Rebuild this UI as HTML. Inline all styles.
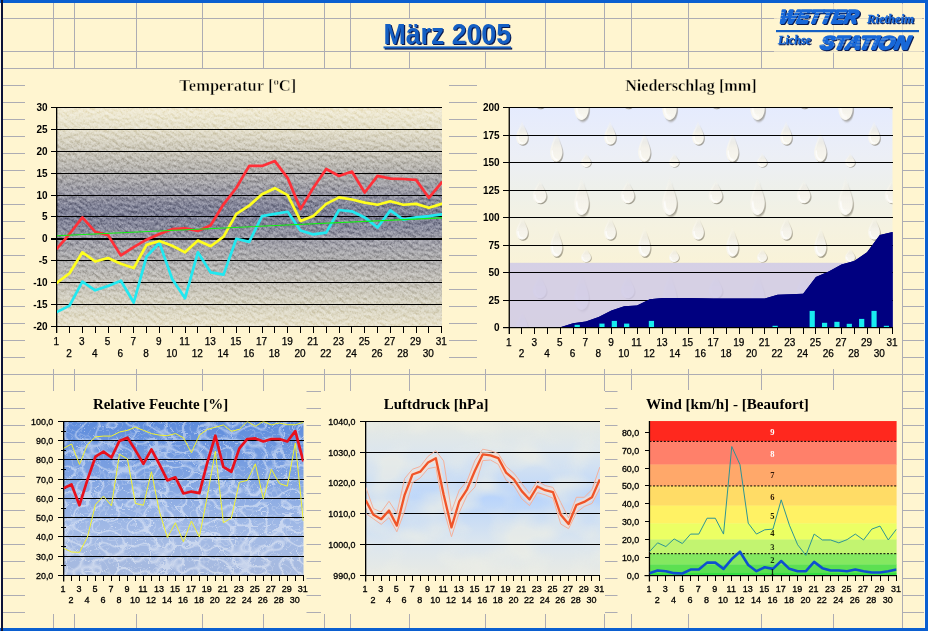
<!DOCTYPE html>
<html lang="de"><head><meta charset="utf-8"><title>März 2005 – Wetterstation Rietheim</title>
<style>html,body{margin:0;padding:0;background:#FFF5D0;overflow:hidden}svg{display:block}
.ab{font-family:"Liberation Sans",Arial,sans-serif;font-weight:bold;font-size:10px;fill:#000}
.ar{font-family:"Liberation Sans",Arial,sans-serif;font-size:10px;fill:#000;stroke:#000;stroke-width:0.25px}
.as{font-family:"Liberation Sans",Arial,sans-serif;font-size:8.9px;fill:#000;stroke:#000;stroke-width:0.3px}
.ax{font-family:"Liberation Sans",Arial,sans-serif;font-size:9px;fill:#000;stroke:#000;stroke-width:0.3px}
.tt{font-family:"Liberation Serif","Times New Roman",serif;font-weight:bold;fill:#000}
</style></head><body>
<svg width="928" height="631" viewBox="0 0 928 631">
<defs>
<linearGradient id="gT" x1="0" y1="0" x2="0" y2="1"><stop offset="0.000" stop-color="#F1EBD4"/><stop offset="0.098" stop-color="#E5E0CC"/><stop offset="0.199" stop-color="#CCC8BB"/><stop offset="0.299" stop-color="#B2B0AE"/><stop offset="0.400" stop-color="#9797A4"/><stop offset="0.450" stop-color="#838599"/><stop offset="0.495" stop-color="#7F8197"/><stop offset="0.550" stop-color="#8A8C9E"/><stop offset="0.596" stop-color="#9E9EA9"/><stop offset="0.696" stop-color="#B0AFAF"/><stop offset="0.797" stop-color="#C5C2BA"/><stop offset="0.897" stop-color="#D8D4C3"/><stop offset="1.000" stop-color="#E9E3CD"/></linearGradient>
<filter id="fStone" x="0" y="0" width="100%" height="100%" color-interpolation-filters="sRGB"><feTurbulence type="fractalNoise" baseFrequency="0.20 0.34" numOctaves="3" seed="7" result="n"/><feDiffuseLighting in="n" surfaceScale="1.5" diffuseConstant="1" lighting-color="#fff" result="l"><feDistantLight azimuth="235" elevation="30"/></feDiffuseLighting><feTurbulence type="fractalNoise" baseFrequency="0.75" numOctaves="1" seed="3" result="n2"/><feColorMatrix in="n2" type="matrix" values="2.6 0 0 0 -0.8  2.6 0 0 0 -0.8  2.6 0 0 0 -0.8  0 0 0 0 1" result="g2"/><feComposite in="l" in2="g2" operator="arithmetic" k1="0" k2="0.85" k3="0.55" k4="-0.2" result="m"/><feColorMatrix in="m" type="matrix" values="1 0 0 0 0  0 1 0 0 0  0 0 1 0 0  0 0 0 0 1"/></filter>
<linearGradient id="gN" x1="0" y1="0" x2="0" y2="1"><stop offset="0" stop-color="#E5EBFE"/><stop offset="0.22" stop-color="#ECEFF6"/><stop offset="0.38" stop-color="#EEF0EA"/><stop offset="0.55" stop-color="#F5F2E0"/><stop offset="0.75" stop-color="#FAF3D6"/><stop offset="1" stop-color="#FDF3CE"/></linearGradient>
<linearGradient id="gDrop" x1="0" y1="0" x2="0" y2="1"><stop offset="0" stop-color="#F3F0E4" stop-opacity="0"/><stop offset="0.25" stop-color="#F7F5EC" stop-opacity="0.45"/><stop offset="0.55" stop-color="#F8F6EE" stop-opacity="0.9"/><stop offset="1" stop-color="#FAF8F0" stop-opacity="1"/></linearGradient>
<linearGradient id="gDropS" x1="0" y1="0" x2="0" y2="1"><stop offset="0.15" stop-color="#8A8474" stop-opacity="0"/><stop offset="0.6" stop-color="#8A8474" stop-opacity="0.42"/><stop offset="1" stop-color="#6E6858" stop-opacity="0.64"/></linearGradient>
<filter id="fBlur1" x="-30%" y="-30%" width="160%" height="160%"><feGaussianBlur stdDeviation="0.8"/></filter>
<symbol id="drop" viewBox="0 0 20 40" preserveAspectRatio="none" overflow="visible"><path d="M10 0 C11 9 19 20 19 28 C19 35 15 40 10 40 C5 40 1 35 1 28 C1 20 9 9 10 0Z" fill="url(#gDropS)" transform="translate(1.8,1.4)" filter="url(#fBlur1)"/><path d="M10 0 C11 9 19 20 19 28 C19 35 15 40 10 40 C5 40 1 35 1 28 C1 20 9 9 10 0Z" fill="url(#gDrop)"/><path d="M4 27 C3.5 33 7 37.5 11 37.5" fill="none" stroke="#fff" stroke-width="2.4" stroke-linecap="round" opacity="0.7" filter="url(#fBlur1)"/></symbol>
<pattern id="pDrops" x="509" y="107" width="88" height="95" patternUnits="userSpaceOnUse">
<use href="#drop" x="64.5" y="68" width="16" height="40"/>
<use href="#drop" x="6.5" y="12.8" width="13" height="25"/>
<use href="#drop" x="40.5" y="22.7" width="13.5" height="32"/>
<use href="#drop" x="71.5" y="45" width="11" height="15"/>
<use href="#drop" x="23" y="71.3" width="15" height="25"/>
<use href="#drop" x="64.5" y="163" width="16" height="40"/>
<use href="#drop" x="6.5" y="107.8" width="13" height="25"/>
<use href="#drop" x="40.5" y="117.7" width="13.5" height="32"/>
<use href="#drop" x="71.5" y="140" width="11" height="15"/>
<use href="#drop" x="23" y="166.3" width="15" height="25"/>
<use href="#drop" x="64.5" y="-27" width="16" height="40"/>
<use href="#drop" x="6.5" y="-82.2" width="13" height="25"/>
<use href="#drop" x="40.5" y="-72.3" width="13.5" height="32"/>
<use href="#drop" x="71.5" y="-50" width="11" height="15"/>
<use href="#drop" x="23" y="-23.7" width="15" height="25"/>
<use href="#drop" x="152.5" y="68" width="16" height="40"/>
<use href="#drop" x="94.5" y="12.8" width="13" height="25"/>
<use href="#drop" x="128.5" y="22.7" width="13.5" height="32"/>
<use href="#drop" x="159.5" y="45" width="11" height="15"/>
<use href="#drop" x="111" y="71.3" width="15" height="25"/>
<use href="#drop" x="152.5" y="163" width="16" height="40"/>
<use href="#drop" x="94.5" y="107.8" width="13" height="25"/>
<use href="#drop" x="128.5" y="117.7" width="13.5" height="32"/>
<use href="#drop" x="159.5" y="140" width="11" height="15"/>
<use href="#drop" x="111" y="166.3" width="15" height="25"/>
<use href="#drop" x="152.5" y="-27" width="16" height="40"/>
<use href="#drop" x="94.5" y="-82.2" width="13" height="25"/>
<use href="#drop" x="128.5" y="-72.3" width="13.5" height="32"/>
<use href="#drop" x="159.5" y="-50" width="11" height="15"/>
<use href="#drop" x="111" y="-23.7" width="15" height="25"/>
<use href="#drop" x="-23.5" y="68" width="16" height="40"/>
<use href="#drop" x="-81.5" y="12.8" width="13" height="25"/>
<use href="#drop" x="-47.5" y="22.7" width="13.5" height="32"/>
<use href="#drop" x="-16.5" y="45" width="11" height="15"/>
<use href="#drop" x="-65" y="71.3" width="15" height="25"/>
<use href="#drop" x="-23.5" y="163" width="16" height="40"/>
<use href="#drop" x="-81.5" y="107.8" width="13" height="25"/>
<use href="#drop" x="-47.5" y="117.7" width="13.5" height="32"/>
<use href="#drop" x="-16.5" y="140" width="11" height="15"/>
<use href="#drop" x="-65" y="166.3" width="15" height="25"/>
<use href="#drop" x="-23.5" y="-27" width="16" height="40"/>
<use href="#drop" x="-81.5" y="-82.2" width="13" height="25"/>
<use href="#drop" x="-47.5" y="-72.3" width="13.5" height="32"/>
<use href="#drop" x="-16.5" y="-50" width="11" height="15"/>
<use href="#drop" x="-65" y="-23.7" width="15" height="25"/>
</pattern>
<linearGradient id="gH" x1="0" y1="0" x2="0" y2="1"><stop offset="0" stop-color="#5E8CDC"/><stop offset="0.35" stop-color="#7FA3E2"/><stop offset="0.7" stop-color="#A2BAE6"/><stop offset="1" stop-color="#A7BADF"/></linearGradient>
<filter id="fWater" x="0" y="0" width="100%" height="100%" color-interpolation-filters="sRGB"><feTurbulence type="turbulence" baseFrequency="0.06 0.075" numOctaves="1" seed="4" result="n"/><feColorMatrix in="n" type="matrix" values="0 0 0 0 1  0 0 0 0 1  0 0 0 0 1  -7 0 0 0 0.8" result="a1"/><feTurbulence type="turbulence" baseFrequency="0.11 0.13" numOctaves="1" seed="9" result="n2"/><feColorMatrix in="n2" type="matrix" values="0 0 0 0 1  0 0 0 0 1  0 0 0 0 1  -5 0 0 0 0.36" result="a2"/><feMerge><feMergeNode in="a1"/><feMergeNode in="a2"/></feMerge><feGaussianBlur stdDeviation="0.7"/></filter>
<linearGradient id="gP" x1="0" y1="0" x2="0" y2="1"><stop offset="0" stop-color="#E6E9E2"/><stop offset="0.2" stop-color="#DCE6EE"/><stop offset="0.5" stop-color="#BAD5FB"/><stop offset="0.8" stop-color="#DCE6EE"/><stop offset="1" stop-color="#E8EAE4"/></linearGradient>
<filter id="fCloud" x="0" y="0" width="100%" height="100%" color-interpolation-filters="sRGB"><feTurbulence type="fractalNoise" baseFrequency="0.022 0.035" numOctaves="2" seed="5" result="n"/><feColorMatrix in="n" type="matrix" values="0 0 0 0 0.93  0 0 0 0 0.935  0 0 0 0 0.90  3.0 0 0 0 -1.2"/></filter>
<clipPath id="cT"><rect x="57" y="107.5" width="385" height="219"/></clipPath>
<clipPath id="cN"><rect x="509.5" y="107" width="383" height="220.3"/></clipPath>
<clipPath id="cH"><rect x="63.5" y="421.5" width="240" height="154"/></clipPath>
<clipPath id="cP"><rect x="366" y="421.5" width="234" height="153.5"/></clipPath>
<clipPath id="cW"><rect x="649.5" y="421" width="247" height="154.3"/></clipPath>
</defs>
<rect x="0" y="0" width="928" height="631" fill="#FFF5D0"/>
<path d="M53.5 3V628M74.5 3V628M136.5 3V628M202.5 3V628M263.5 3V628M324.5 3V628M350.5 3V628M409.5 3V628M485.5 3V628M545.5 3V628M604.5 3V628M631.5 3V628M688.5 3V628M761.5 3V628M833.5 3V628M902.5 3V628M3 18.5H925M3 51.5H925M3 68.5H925M3 85.5H925M3 102.5H925M3 119.5H925M3 136.5H925M3 153.5H925M3 170.5H925M3 187.5H925M3 204.5H925M3 221.5H925M3 238.5H925M3 255.5H925M3 272.5H925M3 289.5H925M3 306.5H925M3 323.5H925M3 340.5H925M3 357.5H925M3 374.5H925M3 391.5H925M3 408.5H925M3 425.5H925M3 442.5H925M3 459.5H925M3 476.5H925M3 493.5H925M3 510.5H925M3 527.5H925M3 544.5H925M3 561.5H925M3 578.5H925M3 595.5H925M3 612.5H925" stroke="#ADACB3" stroke-width="1" fill="none" shape-rendering="crispEdges"/>
<rect x="25" y="69" width="424" height="300" fill="#FFF5D0"/>
<rect x="477" y="69" width="425" height="300" fill="#FFF5D0"/>
<rect x="25" y="391" width="281.5" height="223" fill="#FFF5D0"/>
<rect x="321" y="391" width="284" height="223" fill="#FFF5D0"/>
<rect x="617.5" y="390" width="284.5" height="224" fill="#FFF5D0"/>
<rect x="0" y="0" width="928" height="3" fill="#0B5FD0"/>
<rect x="0" y="628" width="928" height="3" fill="#0B5FD0"/>
<rect x="925" y="0" width="3" height="631" fill="#0B5FD0"/>
<rect x="924" y="3" width="1" height="625" fill="#FFF9E6"/>
<rect x="0" y="3" width="1" height="625" fill="#FFF9E6"/>
<rect x="1" y="0" width="2" height="631" fill="#0C1238"/>
<rect x="351" y="19" width="194" height="32" fill="#FFF5D0"/>
<g font-family="'Liberation Sans',Arial,sans-serif" font-weight="bold" font-size="28.8px">
<text x="384.7" y="45.4" fill="#0A1A50" textLength="127.5" lengthAdjust="spacingAndGlyphs">März 2005</text>
<text x="383.5" y="44.2" fill="#1560C4" textLength="127.5" lengthAdjust="spacingAndGlyphs">März 2005</text>
</g>
<rect x="384.7" y="47.6" width="127.5" height="2" fill="#0A1A50"/>
<rect x="383.5" y="46.4" width="127.5" height="2" fill="#1560C4"/>
<rect x="774" y="4" width="148" height="49" fill="#FFF5D0" opacity="0.62"/>
<g font-family="'Liberation Sans',Arial,sans-serif" font-weight="bold" font-style="italic">
<text transform="translate(779.6,23.9) skewX(-12)" font-size="18.5px" fill="#0A1A50" stroke="#0A1A50" stroke-width="1.9" stroke-linejoin="round" textLength="78.5" lengthAdjust="spacingAndGlyphs">WETTER</text>
<text transform="translate(778.5,22.8) skewX(-12)" font-size="18.5px" fill="#1868D8" stroke="#1868D8" stroke-width="1.9" stroke-linejoin="round" textLength="78.5" lengthAdjust="spacingAndGlyphs">WETTER</text>
<text transform="translate(820.6,50.4) skewX(-12)" font-size="18.5px" fill="#0A1A50" stroke="#0A1A50" stroke-width="1.9" stroke-linejoin="round" textLength="89.5" lengthAdjust="spacingAndGlyphs">STATION</text>
<text transform="translate(819.5,49.3) skewX(-12)" font-size="18.5px" fill="#1868D8" stroke="#1868D8" stroke-width="1.9" stroke-linejoin="round" textLength="89.5" lengthAdjust="spacingAndGlyphs">STATION</text>
</g>
<g font-family="'Liberation Serif',serif" font-weight="bold" font-style="italic">
<text transform="translate(868.1,24.1) skewX(0)" font-size="11.5px" fill="#0A1A50" stroke="#0A1A50" stroke-width="0.3" stroke-linejoin="round" textLength="47" lengthAdjust="spacingAndGlyphs">Rietheim</text>
<text transform="translate(867,23) skewX(0)" font-size="11.5px" fill="#1868D8" stroke="#1868D8" stroke-width="0.3" stroke-linejoin="round" textLength="47" lengthAdjust="spacingAndGlyphs">Rietheim</text>
<text transform="translate(779.1,45.1) skewX(0)" font-size="11.5px" fill="#0A1A50" stroke="#0A1A50" stroke-width="0.3" stroke-linejoin="round" textLength="33" lengthAdjust="spacingAndGlyphs">Lichse</text>
<text transform="translate(778,44) skewX(0)" font-size="11.5px" fill="#1868D8" stroke="#1868D8" stroke-width="0.3" stroke-linejoin="round" textLength="33" lengthAdjust="spacingAndGlyphs">Lichse</text>
</g>
<rect x="776" y="30" width="143" height="2.2" fill="#1560C4"/>
<path d="M779 12.5h70M778 15.5h62M777 18.5h56M821 39h74M820 42h66M819 45h58" stroke="#FFF5D0" stroke-width="0.7" stroke-dasharray="5 3 2 4 7 2" opacity="0.55" fill="none"/>
<text class="tt" x="179.3" y="90.9" font-size="16px" textLength="117" lengthAdjust="spacingAndGlyphs" stroke="#FFF5D0" stroke-width="0.45">Temperatur [ºC]</text>
<rect x="57" y="107.5" width="385" height="219" fill="url(#gT)"/>
<g clip-path="url(#cT)" style="mix-blend-mode:soft-light" opacity="0.85"><rect x="-60" y="-120" width="640" height="680" transform="rotate(38 250 217)" filter="url(#fStone)"/></g>
<path d="M51 326.5H442M51 304.5H442M51 282.5H442M51 260.5H442M51 216.5H442M51 195.5H442M51 173.5H442M51 151.5H442M51 129.5H442M51 107.5H442" stroke="#000" stroke-width="1" fill="none" shape-rendering="crispEdges"/>
<rect x="51" y="238" width="391" height="2" fill="#000" shape-rendering="crispEdges"/>
<rect x="56" y="107" width="1.3" height="226" fill="#000"/>
<path d="M56.7 326.5v6.5M69.53 326.5v6.5M82.37 326.5v6.5M95.2 326.5v6.5M108.03 326.5v6.5M120.87 326.5v6.5M133.7 326.5v6.5M146.53 326.5v6.5M159.37 326.5v6.5M172.2 326.5v6.5M185.03 326.5v6.5M197.87 326.5v6.5M210.7 326.5v6.5M223.53 326.5v6.5M236.37 326.5v6.5M249.2 326.5v6.5M262.03 326.5v6.5M274.87 326.5v6.5M287.7 326.5v6.5M300.53 326.5v6.5M313.37 326.5v6.5M326.2 326.5v6.5M339.03 326.5v6.5M351.87 326.5v6.5M364.7 326.5v6.5M377.53 326.5v6.5M390.37 326.5v6.5M403.2 326.5v6.5M416.03 326.5v6.5M428.87 326.5v6.5M441.7 326.5v6.5" stroke="#000" stroke-width="1" fill="none" shape-rendering="crispEdges"/>
<text class="ab" x="47.6" y="330" text-anchor="end">-20</text>
<text class="ab" x="47.6" y="308" text-anchor="end">-15</text>
<text class="ab" x="47.6" y="286" text-anchor="end">-10</text>
<text class="ab" x="47.6" y="264" text-anchor="end">-5</text>
<text class="ab" x="47.6" y="242" text-anchor="end">0</text>
<text class="ab" x="47.6" y="220" text-anchor="end">5</text>
<text class="ab" x="47.6" y="199" text-anchor="end">10</text>
<text class="ab" x="47.6" y="177" text-anchor="end">15</text>
<text class="ab" x="47.6" y="155" text-anchor="end">20</text>
<text class="ab" x="47.6" y="133" text-anchor="end">25</text>
<text class="ab" x="47.6" y="111" text-anchor="end">30</text>
<text class="ar" x="56.2" y="344.6" text-anchor="middle">1</text>
<text class="ar" x="69.03" y="356.8" text-anchor="middle">2</text>
<text class="ar" x="81.87" y="344.6" text-anchor="middle">3</text>
<text class="ar" x="94.7" y="356.8" text-anchor="middle">4</text>
<text class="ar" x="107.53" y="344.6" text-anchor="middle">5</text>
<text class="ar" x="120.37" y="356.8" text-anchor="middle">6</text>
<text class="ar" x="133.2" y="344.6" text-anchor="middle">7</text>
<text class="ar" x="146.03" y="356.8" text-anchor="middle">8</text>
<text class="ar" x="158.87" y="344.6" text-anchor="middle">9</text>
<text class="ar" x="171.7" y="356.8" text-anchor="middle">10</text>
<text class="ar" x="184.53" y="344.6" text-anchor="middle">11</text>
<text class="ar" x="197.37" y="356.8" text-anchor="middle">12</text>
<text class="ar" x="210.2" y="344.6" text-anchor="middle">13</text>
<text class="ar" x="223.03" y="356.8" text-anchor="middle">14</text>
<text class="ar" x="235.87" y="344.6" text-anchor="middle">15</text>
<text class="ar" x="248.7" y="356.8" text-anchor="middle">16</text>
<text class="ar" x="261.53" y="344.6" text-anchor="middle">17</text>
<text class="ar" x="274.37" y="356.8" text-anchor="middle">18</text>
<text class="ar" x="287.2" y="344.6" text-anchor="middle">19</text>
<text class="ar" x="300.03" y="356.8" text-anchor="middle">20</text>
<text class="ar" x="312.87" y="344.6" text-anchor="middle">21</text>
<text class="ar" x="325.7" y="356.8" text-anchor="middle">22</text>
<text class="ar" x="338.53" y="344.6" text-anchor="middle">23</text>
<text class="ar" x="351.37" y="356.8" text-anchor="middle">24</text>
<text class="ar" x="364.2" y="344.6" text-anchor="middle">25</text>
<text class="ar" x="377.03" y="356.8" text-anchor="middle">26</text>
<text class="ar" x="389.87" y="344.6" text-anchor="middle">27</text>
<text class="ar" x="402.7" y="356.8" text-anchor="middle">28</text>
<text class="ar" x="415.53" y="344.6" text-anchor="middle">29</text>
<text class="ar" x="428.37" y="356.8" text-anchor="middle">30</text>
<text class="ar" x="441.2" y="344.6" text-anchor="middle">31</text>
<g clip-path="url(#cT)" fill="none" stroke-linejoin="round" stroke-linecap="round">
<polyline points="56.7,312.13 69.53,305.58 82.37,281.58 95.2,290.31 108.03,285.94 120.87,280.7 133.7,302.53 146.53,256.7 159.37,242.73 172.2,278.96 185.03,298.16 197.87,252.33 210.7,272.41 223.53,274.59 236.37,238.8 249.2,241.86 262.03,216.1 274.87,213.92 287.7,211.74 300.53,230.51 313.37,234.44 326.2,232.69 339.03,209.99 351.87,211.3 364.7,217.41 377.53,227.45 390.37,210.43 403.2,219.59 416.03,217.41 428.87,216.1 441.7,214.36" stroke="#22E8F0" stroke-width="2.7"/>
<polyline points="56.7,282.89 69.53,273.28 82.37,252.33 95.2,261.5 108.03,258.01 120.87,263.68 133.7,268.05 146.53,244.91 159.37,240.98 172.2,245.78 185.03,252.33 197.87,240.55 210.7,246.22 223.53,236.62 236.37,213.92 249.2,205.63 262.03,194.28 274.87,188.17 287.7,195.15 300.53,220.9 313.37,216.1 326.2,203.88 339.03,197.33 351.87,199.52 364.7,202.57 377.53,204.75 390.37,201.26 403.2,204.75 416.03,203.88 428.87,207.81 441.7,203.88" stroke="#FFFF1E" stroke-width="2.7"/>
<polyline points="56.7,248.84 69.53,234 82.37,217.41 95.2,231.82 108.03,235.31 120.87,255.39 133.7,247.09 146.53,239.67 159.37,234 172.2,229.2 185.03,228.32 197.87,230.94 210.7,225.27 223.53,204.32 236.37,187.73 249.2,165.9 262.03,165.9 274.87,161.1 287.7,178.13 300.53,209.12 313.37,187.73 326.2,168.96 339.03,175.94 351.87,171.58 364.7,192.53 377.53,175.94 390.37,178.56 403.2,179 416.03,179.87 428.87,197.77 441.7,182.49" stroke="#FF3038" stroke-width="2.7"/>
<path d="M56.7 235.74L441.7 217.85" stroke="#10F010" stroke-width="1.1"/>
</g>
<text class="tt" x="625.2" y="90.9" font-size="16px" textLength="131.4" lengthAdjust="spacingAndGlyphs" stroke="#FFF5D0" stroke-width="0.35">Niederschlag [mm]</text>
<rect x="509.5" y="107" width="383" height="220.3" fill="url(#gN)"/>
<rect x="509.5" y="107" width="383" height="220.3" fill="url(#pDrops)"/>
<rect x="509.5" y="262.8" width="383" height="64.7" fill="#CFCAE6" opacity="0.86"/>
<polygon points="509.2,327.3 509.2,327.3 521.98,327.3 534.76,327.3 547.54,327.3 560.32,327.3 573.1,323.3 585.88,321.6 598.66,317.1 611.44,310.4 624.22,306.3 637,305.5 649.78,299.3 662.56,298.1 675.34,298.1 688.12,298.1 700.9,298.3 713.68,298.6 726.46,298.6 739.24,298.6 752.02,298.6 764.8,298.6 777.58,294.8 790.36,294.3 803.14,293.8 815.92,277 828.7,271.5 841.48,264.6 854.26,260.9 867.04,252.3 879.82,234.9 892.6,231.9 892.6,327.3" fill="#000080"/>
<path d="M503 300.5H892.6M503 272.5H892.6M503 245.5H892.6M503 217.5H892.6M503 190.5H892.6M503 162.5H892.6M503 135.5H892.6M503 107.5H892.6" stroke="#000" stroke-width="1" fill="none" shape-rendering="crispEdges"/>
<polygon points="509.2,327.3 509.2,327.3 521.98,327.3 534.76,327.3 547.54,327.3 560.32,327.3 573.1,323.3 585.88,321.6 598.66,317.1 611.44,310.4 624.22,306.3 637,305.5 649.78,299.3 662.56,298.1 675.34,298.1 688.12,298.1 700.9,298.3 713.68,298.6 726.46,298.6 739.24,298.6 752.02,298.6 764.8,298.6 777.58,294.8 790.36,294.3 803.14,293.8 815.92,277 828.7,271.5 841.48,264.6 854.26,260.9 867.04,252.3 879.82,234.9 892.6,231.9 892.6,327.3" fill="#000080"/>
<rect x="574.62" y="324.8" width="5.2" height="2.5" fill="#18ECF0"/>
<rect x="599.36" y="323.6" width="5.2" height="3.7" fill="#18ECF0"/>
<rect x="611.73" y="320.9" width="5.2" height="6.4" fill="#18ECF0"/>
<rect x="624.09" y="323.6" width="5.2" height="3.7" fill="#18ECF0"/>
<rect x="648.83" y="320.9" width="5.2" height="6.4" fill="#18ECF0"/>
<rect x="772.51" y="325.8" width="5.2" height="1.5" fill="#18ECF0"/>
<rect x="809.61" y="310.9" width="5.2" height="16.4" fill="#18ECF0"/>
<rect x="821.98" y="322.8" width="5.2" height="4.5" fill="#18ECF0"/>
<rect x="834.35" y="321.8" width="5.2" height="5.5" fill="#18ECF0"/>
<rect x="846.71" y="323.8" width="5.2" height="3.5" fill="#18ECF0"/>
<rect x="859.08" y="318.9" width="5.2" height="8.4" fill="#18ECF0"/>
<rect x="871.45" y="310.9" width="5.2" height="16.4" fill="#18ECF0"/>
<rect x="883.82" y="325.8" width="5.2" height="1.5" fill="#18ECF0"/>
<rect x="503" y="327" width="390" height="1.2" fill="#000"/>
<rect x="508.6" y="107" width="1.3" height="227" fill="#000"/>
<path d="M509.2 327.3v6.3M521.98 327.3v6.3M534.76 327.3v6.3M547.54 327.3v6.3M560.32 327.3v6.3M573.1 327.3v6.3M585.88 327.3v6.3M598.66 327.3v6.3M611.44 327.3v6.3M624.22 327.3v6.3M637 327.3v6.3M649.78 327.3v6.3M662.56 327.3v6.3M675.34 327.3v6.3M688.12 327.3v6.3M700.9 327.3v6.3M713.68 327.3v6.3M726.46 327.3v6.3M739.24 327.3v6.3M752.02 327.3v6.3M764.8 327.3v6.3M777.58 327.3v6.3M790.36 327.3v6.3M803.14 327.3v6.3M815.92 327.3v6.3M828.7 327.3v6.3M841.48 327.3v6.3M854.26 327.3v6.3M867.04 327.3v6.3M879.82 327.3v6.3M892.6 327.3v6.3" stroke="#000" stroke-width="1" fill="none" shape-rendering="crispEdges"/>
<text class="ab" x="499.6" y="331.1" text-anchor="end">0</text>
<text class="ab" x="499.6" y="304.1" text-anchor="end">25</text>
<text class="ab" x="499.6" y="276.1" text-anchor="end">50</text>
<text class="ab" x="499.6" y="249.1" text-anchor="end">75</text>
<text class="ab" x="499.6" y="221.1" text-anchor="end">100</text>
<text class="ab" x="499.6" y="194.1" text-anchor="end">125</text>
<text class="ab" x="499.6" y="166.1" text-anchor="end">150</text>
<text class="ab" x="499.6" y="139.1" text-anchor="end">175</text>
<text class="ab" x="499.6" y="111.1" text-anchor="end">200</text>
<text class="ar" x="508.7" y="345.6" text-anchor="middle">1</text>
<text class="ar" x="521.48" y="356.8" text-anchor="middle">2</text>
<text class="ar" x="534.26" y="345.6" text-anchor="middle">3</text>
<text class="ar" x="547.04" y="356.8" text-anchor="middle">4</text>
<text class="ar" x="559.82" y="345.6" text-anchor="middle">5</text>
<text class="ar" x="572.6" y="356.8" text-anchor="middle">6</text>
<text class="ar" x="585.38" y="345.6" text-anchor="middle">7</text>
<text class="ar" x="598.16" y="356.8" text-anchor="middle">8</text>
<text class="ar" x="610.94" y="345.6" text-anchor="middle">9</text>
<text class="ar" x="623.72" y="356.8" text-anchor="middle">10</text>
<text class="ar" x="636.5" y="345.6" text-anchor="middle">11</text>
<text class="ar" x="649.28" y="356.8" text-anchor="middle">12</text>
<text class="ar" x="662.06" y="345.6" text-anchor="middle">13</text>
<text class="ar" x="674.84" y="356.8" text-anchor="middle">14</text>
<text class="ar" x="687.62" y="345.6" text-anchor="middle">15</text>
<text class="ar" x="700.4" y="356.8" text-anchor="middle">16</text>
<text class="ar" x="713.18" y="345.6" text-anchor="middle">17</text>
<text class="ar" x="725.96" y="356.8" text-anchor="middle">18</text>
<text class="ar" x="738.74" y="345.6" text-anchor="middle">19</text>
<text class="ar" x="751.52" y="356.8" text-anchor="middle">20</text>
<text class="ar" x="764.3" y="345.6" text-anchor="middle">21</text>
<text class="ar" x="777.08" y="356.8" text-anchor="middle">22</text>
<text class="ar" x="789.86" y="345.6" text-anchor="middle">23</text>
<text class="ar" x="802.64" y="356.8" text-anchor="middle">24</text>
<text class="ar" x="815.42" y="345.6" text-anchor="middle">25</text>
<text class="ar" x="828.2" y="356.8" text-anchor="middle">26</text>
<text class="ar" x="840.98" y="345.6" text-anchor="middle">27</text>
<text class="ar" x="853.76" y="356.8" text-anchor="middle">28</text>
<text class="ar" x="866.54" y="345.6" text-anchor="middle">29</text>
<text class="ar" x="879.32" y="356.8" text-anchor="middle">30</text>
<text class="ar" x="892.1" y="345.6" text-anchor="middle">31</text>
<text class="tt" x="92.9" y="408.7" font-size="15px" textLength="135.4" lengthAdjust="spacingAndGlyphs">Relative Feuchte [%]</text>
<rect x="63.5" y="421.4" width="240" height="154" fill="url(#gH)"/>
<rect x="63.5" y="421.4" width="240" height="154" filter="url(#fWater)" opacity="0.52"/>
<path d="M58 575.5H303.5M58 556.5H303.5M58 536.5H303.5M58 517.5H303.5M58 498.5H303.5M58 479.5H303.5M58 459.5H303.5M58 440.5H303.5M58 421.5H303.5M61 565.5H66M61 546.5H66M61 527.5H66M61 508.5H66M61 488.5H66M61 469.5H66M61 450.5H66M61 431.5H66" stroke="#000" stroke-width="1" fill="none" shape-rendering="crispEdges"/>
<rect x="63" y="421" width="1.3" height="160.5" fill="#000"/>
<path d="M63.5 575.4v5.8M71.49 575.4v5.8M79.49 575.4v5.8M87.48 575.4v5.8M95.47 575.4v5.8M103.47 575.4v5.8M111.46 575.4v5.8M119.45 575.4v5.8M127.45 575.4v5.8M135.44 575.4v5.8M143.43 575.4v5.8M151.43 575.4v5.8M159.42 575.4v5.8M167.41 575.4v5.8M175.41 575.4v5.8M183.4 575.4v5.8M191.39 575.4v5.8M199.39 575.4v5.8M207.38 575.4v5.8M215.37 575.4v5.8M223.37 575.4v5.8M231.36 575.4v5.8M239.35 575.4v5.8M247.35 575.4v5.8M255.34 575.4v5.8M263.33 575.4v5.8M271.33 575.4v5.8M279.32 575.4v5.8M287.31 575.4v5.8M295.31 575.4v5.8M303.3 575.4v5.8" stroke="#000" stroke-width="1" fill="none" shape-rendering="crispEdges"/>
<text class="as" x="53.3" y="578.9" text-anchor="end">20,0</text>
<text class="as" x="53.3" y="559.9" text-anchor="end">30,0</text>
<text class="as" x="53.3" y="539.9" text-anchor="end">40,0</text>
<text class="as" x="53.3" y="520.9" text-anchor="end">50,0</text>
<text class="as" x="53.3" y="501.9" text-anchor="end">60,0</text>
<text class="as" x="53.3" y="482.9" text-anchor="end">70,0</text>
<text class="as" x="53.3" y="462.9" text-anchor="end">80,0</text>
<text class="as" x="53.3" y="443.9" text-anchor="end">90,0</text>
<text class="as" x="53.3" y="424.9" text-anchor="end">100,0</text>
<text class="ax" x="63" y="591.8" text-anchor="middle">1</text>
<text class="ax" x="70.99" y="602.7" text-anchor="middle">2</text>
<text class="ax" x="78.99" y="591.8" text-anchor="middle">3</text>
<text class="ax" x="86.98" y="602.7" text-anchor="middle">4</text>
<text class="ax" x="94.97" y="591.8" text-anchor="middle">5</text>
<text class="ax" x="102.97" y="602.7" text-anchor="middle">6</text>
<text class="ax" x="110.96" y="591.8" text-anchor="middle">7</text>
<text class="ax" x="118.95" y="602.7" text-anchor="middle">8</text>
<text class="ax" x="126.95" y="591.8" text-anchor="middle">9</text>
<text class="ax" x="134.94" y="602.7" text-anchor="middle">10</text>
<text class="ax" x="142.93" y="591.8" text-anchor="middle">11</text>
<text class="ax" x="150.93" y="602.7" text-anchor="middle">12</text>
<text class="ax" x="158.92" y="591.8" text-anchor="middle">13</text>
<text class="ax" x="166.91" y="602.7" text-anchor="middle">14</text>
<text class="ax" x="174.91" y="591.8" text-anchor="middle">15</text>
<text class="ax" x="182.9" y="602.7" text-anchor="middle">16</text>
<text class="ax" x="190.89" y="591.8" text-anchor="middle">17</text>
<text class="ax" x="198.89" y="602.7" text-anchor="middle">18</text>
<text class="ax" x="206.88" y="591.8" text-anchor="middle">19</text>
<text class="ax" x="214.87" y="602.7" text-anchor="middle">20</text>
<text class="ax" x="222.87" y="591.8" text-anchor="middle">21</text>
<text class="ax" x="230.86" y="602.7" text-anchor="middle">22</text>
<text class="ax" x="238.85" y="591.8" text-anchor="middle">23</text>
<text class="ax" x="246.85" y="602.7" text-anchor="middle">24</text>
<text class="ax" x="254.84" y="591.8" text-anchor="middle">25</text>
<text class="ax" x="262.83" y="602.7" text-anchor="middle">26</text>
<text class="ax" x="270.83" y="591.8" text-anchor="middle">27</text>
<text class="ax" x="278.82" y="602.7" text-anchor="middle">28</text>
<text class="ax" x="286.81" y="591.8" text-anchor="middle">29</text>
<text class="ax" x="294.81" y="602.7" text-anchor="middle">30</text>
<text class="ax" x="302.8" y="591.8" text-anchor="middle">31</text>
<g clip-path="url(#cH)" fill="none" stroke-linejoin="round">
<polyline points="63.5,448.42 71.49,443.99 79.49,464.4 87.48,444.57 95.47,436.86 103.47,436.09 111.46,436.09 119.45,432.05 127.45,430.32 135.44,427.24 143.43,430.32 151.43,433.59 159.42,435.13 167.41,435.71 175.41,433.59 183.4,437.63 191.39,452.65 199.39,435.13 207.38,429.35 215.37,427.24 223.37,424.93 231.36,431.28 239.35,429.35 247.35,421.46 255.34,426.27 263.33,421.46 271.33,424.93 279.32,423 287.31,424.73 295.31,424.73 303.3,422.42" stroke="#F2F230" stroke-width="1"/>
<polyline points="63.5,548.16 71.49,552.01 79.49,552.39 87.48,536.99 95.47,504.45 103.47,496.17 111.46,505.8 119.45,454.19 127.45,459.01 135.44,503.49 143.43,505.22 151.43,471.72 159.42,511.57 167.41,537.57 175.41,522.74 183.4,541.8 191.39,521.01 199.39,536.99 207.38,495.59 215.37,451.11 223.37,522.74 231.36,517.93 239.35,482.31 247.35,480.38 255.34,463.82 263.33,498.87 271.33,469.21 279.32,483.46 287.31,486.16 295.31,443.03 303.3,521.01" stroke="#F2F230" stroke-width="1"/>
<polyline points="63.5,488.27 71.49,484.42 79.49,505.22 87.48,479.61 95.47,456.7 103.47,451.69 111.46,457.47 119.45,440.91 127.45,437.63 135.44,450.34 143.43,463.82 151.43,449.38 159.42,464.4 167.41,480.38 175.41,477.3 183.4,493.47 191.39,491.55 199.39,493.09 207.38,462.28 215.37,435.71 223.37,466.9 231.36,471.72 239.35,448.42 247.35,438.98 255.34,438.4 263.33,441.49 271.33,438.98 279.32,438.98 287.31,441.49 295.31,431.09 303.3,461.32" stroke="#E8101C" stroke-width="2.7"/>
</g>
<text class="tt" x="383.8" y="409.1" font-size="15px" textLength="104.8" lengthAdjust="spacingAndGlyphs">Luftdruck [hPa]</text>
<rect x="366" y="421.5" width="234" height="153.5" fill="url(#gP)"/>
<rect x="366" y="421.5" width="234" height="153.5" filter="url(#fCloud)" opacity="0.7"/>
<path d="M359.5 575.5H600M359.5 544.5H600M359.5 513.5H600M359.5 482.5H600M359.5 452.5H600M359.5 421.5H600" stroke="#000" stroke-width="1" fill="none" shape-rendering="crispEdges"/>
<rect x="365" y="421" width="1.3" height="160.5" fill="#000"/>
<path d="M365.6 575v5.8M373.41 575v5.8M381.21 575v5.8M389.02 575v5.8M396.83 575v5.8M404.63 575v5.8M412.44 575v5.8M420.25 575v5.8M428.05 575v5.8M435.86 575v5.8M443.67 575v5.8M451.47 575v5.8M459.28 575v5.8M467.09 575v5.8M474.89 575v5.8M482.7 575v5.8M490.51 575v5.8M498.31 575v5.8M506.12 575v5.8M513.93 575v5.8M521.73 575v5.8M529.54 575v5.8M537.35 575v5.8M545.15 575v5.8M552.96 575v5.8M560.77 575v5.8M568.57 575v5.8M576.38 575v5.8M584.19 575v5.8M591.99 575v5.8M599.8 575v5.8" stroke="#000" stroke-width="1" fill="none" shape-rendering="crispEdges"/>
<text class="as" x="355.5" y="578.9" text-anchor="end">990,0</text>
<text class="as" x="355.5" y="547.9" text-anchor="end">1000,0</text>
<text class="as" x="355.5" y="516.9" text-anchor="end">1010,0</text>
<text class="as" x="355.5" y="485.9" text-anchor="end">1020,0</text>
<text class="as" x="355.5" y="455.9" text-anchor="end">1030,0</text>
<text class="as" x="355.5" y="424.9" text-anchor="end">1040,0</text>
<text class="ax" x="365.1" y="591.8" text-anchor="middle">1</text>
<text class="ax" x="372.91" y="602.7" text-anchor="middle">2</text>
<text class="ax" x="380.71" y="591.8" text-anchor="middle">3</text>
<text class="ax" x="388.52" y="602.7" text-anchor="middle">4</text>
<text class="ax" x="396.33" y="591.8" text-anchor="middle">5</text>
<text class="ax" x="404.13" y="602.7" text-anchor="middle">6</text>
<text class="ax" x="411.94" y="591.8" text-anchor="middle">7</text>
<text class="ax" x="419.75" y="602.7" text-anchor="middle">8</text>
<text class="ax" x="427.55" y="591.8" text-anchor="middle">9</text>
<text class="ax" x="435.36" y="602.7" text-anchor="middle">10</text>
<text class="ax" x="443.17" y="591.8" text-anchor="middle">11</text>
<text class="ax" x="450.97" y="602.7" text-anchor="middle">12</text>
<text class="ax" x="458.78" y="591.8" text-anchor="middle">13</text>
<text class="ax" x="466.59" y="602.7" text-anchor="middle">14</text>
<text class="ax" x="474.39" y="591.8" text-anchor="middle">15</text>
<text class="ax" x="482.2" y="602.7" text-anchor="middle">16</text>
<text class="ax" x="490.01" y="591.8" text-anchor="middle">17</text>
<text class="ax" x="497.81" y="602.7" text-anchor="middle">18</text>
<text class="ax" x="505.62" y="591.8" text-anchor="middle">19</text>
<text class="ax" x="513.43" y="602.7" text-anchor="middle">20</text>
<text class="ax" x="521.23" y="591.8" text-anchor="middle">21</text>
<text class="ax" x="529.04" y="602.7" text-anchor="middle">22</text>
<text class="ax" x="536.85" y="591.8" text-anchor="middle">23</text>
<text class="ax" x="544.65" y="602.7" text-anchor="middle">24</text>
<text class="ax" x="552.46" y="591.8" text-anchor="middle">25</text>
<text class="ax" x="560.27" y="602.7" text-anchor="middle">26</text>
<text class="ax" x="568.07" y="591.8" text-anchor="middle">27</text>
<text class="ax" x="575.88" y="602.7" text-anchor="middle">28</text>
<text class="ax" x="583.69" y="591.8" text-anchor="middle">29</text>
<text class="ax" x="591.49" y="602.7" text-anchor="middle">30</text>
<text class="ax" x="599.3" y="591.8" text-anchor="middle">31</text>
<g clip-path="url(#cP)" fill="none" stroke-linejoin="round">
<polyline points="365.6,500.04 373.41,514.82 381.21,519.14 389.02,510.51 396.83,525.6 404.63,494.8 412.44,474.48 420.25,471.7 428.05,462.46 435.86,458.15 443.67,494.8 451.47,527.45 459.28,501.27 467.09,489.26 474.89,470.78 482.7,454.46 490.51,455.38 498.31,458.15 506.12,472.63 513.93,479.4 521.73,491.11 529.54,499.42 537.35,486.49 545.15,490.18 552.96,492.03 560.77,514.82 568.57,524.06 576.38,504.97 584.19,501.89 591.99,497.27 599.8,479.4" stroke="#FBE0D0" stroke-width="6" opacity="0.7"/>
<polyline points="365.6,486.8 373.41,508.66 381.21,512.05 389.02,501.27 396.83,513.28 404.63,478.48 412.44,469.24 420.25,466.47 428.05,456.3 435.86,450.76 443.67,460.92 451.47,511.13 459.28,490.18 467.09,480.94 474.89,460.62 482.7,449.22 490.51,450.76 498.31,453.53 506.12,466.47 513.93,473.24 521.73,483.41 529.54,493.26 537.35,480.94 545.15,485.56 552.96,487.41 560.77,502.5 568.57,517.9 576.38,497.27 584.19,497.27 591.99,489.57 599.8,467.08" stroke="#F4B09A" stroke-width="1"/>
<polyline points="365.6,513.28 373.41,518.83 381.21,524.37 389.02,517.6 396.83,531.76 404.63,511.13 412.44,482.79 420.25,477.86 428.05,468.62 435.86,467.08 443.67,509.28 451.47,536.69 459.28,512.36 467.09,495.42 474.89,487.1 482.7,460.62 490.51,460 498.31,464.31 506.12,480.33 513.93,485.56 521.73,498.81 529.54,505.58 537.35,492.65 545.15,494.8 552.96,498.19 560.77,524.06 568.57,528.68 576.38,512.67 584.19,506.51 591.99,503.43 599.8,488.64" stroke="#F4B09A" stroke-width="1"/>
<polyline points="365.6,500.04 373.41,514.82 381.21,519.14 389.02,510.51 396.83,525.6 404.63,494.8 412.44,474.48 420.25,471.7 428.05,462.46 435.86,458.15 443.67,494.8 451.47,527.45 459.28,501.27 467.09,489.26 474.89,470.78 482.7,454.46 490.51,455.38 498.31,458.15 506.12,472.63 513.93,479.4 521.73,491.11 529.54,499.42 537.35,486.49 545.15,490.18 552.96,492.03 560.77,514.82 568.57,524.06 576.38,504.97 584.19,501.89 591.99,497.27 599.8,479.4" stroke="#F05428" stroke-width="2.3"/>
</g>
<text class="tt" x="646" y="409.1" font-size="15px" textLength="162.7" lengthAdjust="spacingAndGlyphs">Wind [km/h] - [Beaufort]</text>
<rect x="649.4" y="421.05" width="247.2" height="20.63" fill="#FF281E"/>
<rect x="649.4" y="441.38" width="247.2" height="23.48" fill="#FF806A"/>
<rect x="649.4" y="464.55" width="247.2" height="21.7" fill="#FFA86A"/>
<rect x="649.4" y="485.95" width="247.2" height="19.91" fill="#FFDC66"/>
<rect x="649.4" y="505.56" width="247.2" height="18.13" fill="#FFF264"/>
<rect x="649.4" y="523.39" width="247.2" height="16.35" fill="#ECFF64"/>
<rect x="649.4" y="539.44" width="247.2" height="14.56" fill="#C2F470"/>
<rect x="649.4" y="553.7" width="247.2" height="11" fill="#84E860"/>
<rect x="649.4" y="564.4" width="247.2" height="8.86" fill="#5CE052"/>
<rect x="649.4" y="572.96" width="247.2" height="2.44" fill="#34E044"/>
<path d="M649.4 441.38H896.6" stroke="#000" stroke-width="1" stroke-dasharray="2 1.6" fill="none"/>
<path d="M649.4 485.95H896.6" stroke="#000" stroke-width="1" stroke-dasharray="2 1.6" fill="none"/>
<path d="M649.4 553.7H896.6" stroke="#000" stroke-width="1" stroke-dasharray="2 1.6" fill="none"/>
<path d="M644.5 575.1H649.4M644.5 557.27H649.4M644.5 539.44H649.4M644.5 521.61H649.4M644.5 503.78H649.4M644.5 485.95H649.4M644.5 468.12H649.4M644.5 450.29H649.4M644.5 432.46H649.4" stroke="#000" stroke-width="1" fill="none" shape-rendering="crispEdges"/>
<rect x="648.8" y="421" width="1.3" height="160.5" fill="#000"/><rect x="644.5" y="575" width="252.2" height="1.2" fill="#000"/>
<path d="M649.4 575.3v5.8M657.64 575.3v5.8M665.87 575.3v5.8M674.11 575.3v5.8M682.35 575.3v5.8M690.58 575.3v5.8M698.82 575.3v5.8M707.06 575.3v5.8M715.29 575.3v5.8M723.53 575.3v5.8M731.77 575.3v5.8M740 575.3v5.8M748.24 575.3v5.8M756.48 575.3v5.8M764.71 575.3v5.8M772.95 575.3v5.8M781.19 575.3v5.8M789.42 575.3v5.8M797.66 575.3v5.8M805.9 575.3v5.8M814.13 575.3v5.8M822.37 575.3v5.8M830.61 575.3v5.8M838.84 575.3v5.8M847.08 575.3v5.8M855.32 575.3v5.8M863.55 575.3v5.8M871.79 575.3v5.8M880.03 575.3v5.8M888.26 575.3v5.8M896.5 575.3v5.8" stroke="#000" stroke-width="1" fill="none" shape-rendering="crispEdges"/>
<text class="as" x="639.2" y="578.6" text-anchor="end">0,0</text>
<text class="as" x="639.2" y="560.77" text-anchor="end">10,0</text>
<text class="as" x="639.2" y="542.94" text-anchor="end">20,0</text>
<text class="as" x="639.2" y="525.11" text-anchor="end">30,0</text>
<text class="as" x="639.2" y="507.28" text-anchor="end">40,0</text>
<text class="as" x="639.2" y="489.45" text-anchor="end">50,0</text>
<text class="as" x="639.2" y="471.62" text-anchor="end">60,0</text>
<text class="as" x="639.2" y="453.79" text-anchor="end">70,0</text>
<text class="as" x="639.2" y="435.96" text-anchor="end">80,0</text>
<text class="ax" x="648.9" y="591.8" text-anchor="middle">1</text>
<text class="ax" x="657.14" y="602.7" text-anchor="middle">2</text>
<text class="ax" x="665.37" y="591.8" text-anchor="middle">3</text>
<text class="ax" x="673.61" y="602.7" text-anchor="middle">4</text>
<text class="ax" x="681.85" y="591.8" text-anchor="middle">5</text>
<text class="ax" x="690.08" y="602.7" text-anchor="middle">6</text>
<text class="ax" x="698.32" y="591.8" text-anchor="middle">7</text>
<text class="ax" x="706.56" y="602.7" text-anchor="middle">8</text>
<text class="ax" x="714.79" y="591.8" text-anchor="middle">9</text>
<text class="ax" x="723.03" y="602.7" text-anchor="middle">10</text>
<text class="ax" x="731.27" y="591.8" text-anchor="middle">11</text>
<text class="ax" x="739.5" y="602.7" text-anchor="middle">12</text>
<text class="ax" x="747.74" y="591.8" text-anchor="middle">13</text>
<text class="ax" x="755.98" y="602.7" text-anchor="middle">14</text>
<text class="ax" x="764.21" y="591.8" text-anchor="middle">15</text>
<text class="ax" x="772.45" y="602.7" text-anchor="middle">16</text>
<text class="ax" x="780.69" y="591.8" text-anchor="middle">17</text>
<text class="ax" x="788.92" y="602.7" text-anchor="middle">18</text>
<text class="ax" x="797.16" y="591.8" text-anchor="middle">19</text>
<text class="ax" x="805.4" y="602.7" text-anchor="middle">20</text>
<text class="ax" x="813.63" y="591.8" text-anchor="middle">21</text>
<text class="ax" x="821.87" y="602.7" text-anchor="middle">22</text>
<text class="ax" x="830.11" y="591.8" text-anchor="middle">23</text>
<text class="ax" x="838.34" y="602.7" text-anchor="middle">24</text>
<text class="ax" x="846.58" y="591.8" text-anchor="middle">25</text>
<text class="ax" x="854.82" y="602.7" text-anchor="middle">26</text>
<text class="ax" x="863.05" y="591.8" text-anchor="middle">27</text>
<text class="ax" x="871.29" y="602.7" text-anchor="middle">28</text>
<text class="ax" x="879.53" y="591.8" text-anchor="middle">29</text>
<text class="ax" x="887.76" y="602.7" text-anchor="middle">30</text>
<text class="ax" x="896" y="591.8" text-anchor="middle">31</text>
<g clip-path="url(#cW)" fill="none" stroke-linejoin="round">
<polyline points="649.4,551.74 657.64,542.83 665.87,546.57 674.11,538.91 682.35,543.54 690.58,534.09 698.82,534.09 707.06,518.22 715.29,518.22 723.53,534.09 731.77,446.55 740,464.73 748.24,523.21 756.48,534.09 764.71,529.81 772.95,529.1 781.19,499.86 789.42,525.18 797.66,544.79 805.9,555.31 814.13,534.09 822.37,539.97 830.61,539.97 838.84,542.83 847.08,539.62 855.32,534.09 863.55,539.97 871.79,529.1 880.03,526.07 888.26,539.97 896.5,529.1" stroke="#2E9494" stroke-width="1"/>
<polyline points="649.4,573.14 657.64,570.46 665.87,571.18 674.11,573.14 682.35,573.5 690.58,569.57 698.82,569.57 707.06,562.62 715.29,562.62 723.53,568.86 731.77,559.05 740,551.74 748.24,564.94 756.48,571.18 764.71,567.25 772.95,568.86 781.19,561.01 789.42,568.86 797.66,571.18 805.9,571.18 814.13,561.91 822.37,568.15 830.61,570.46 838.84,570.46 847.08,571.18 855.32,569.57 863.55,571.18 871.79,572.43 880.03,572.43 888.26,571.18 896.5,569.57" stroke="#0E50D0" stroke-width="2.6"/>
</g>
<text x="772.3" y="435.4" text-anchor="middle" font-family="'Liberation Serif',serif" font-weight="bold" font-size="8.5px" fill="#fff">9</text>
<text x="772.3" y="456.9" text-anchor="middle" font-family="'Liberation Serif',serif" font-weight="bold" font-size="8.5px" fill="#fff">8</text>
<text x="772.3" y="477.9" text-anchor="middle" font-family="'Liberation Serif',serif" font-weight="bold" font-size="8.5px" fill="#301808">7</text>
<text x="772.3" y="499.9" text-anchor="middle" font-family="'Liberation Serif',serif" font-weight="bold" font-size="8.5px" fill="#301808">6</text>
<text x="772.3" y="519.4" text-anchor="middle" font-family="'Liberation Serif',serif" font-weight="bold" font-size="8.5px" fill="#202000">5</text>
<text x="772.3" y="536.4" text-anchor="middle" font-family="'Liberation Serif',serif" font-weight="bold" font-size="8.5px" fill="#202000">4</text>
<text x="772.3" y="549.9" text-anchor="middle" font-family="'Liberation Serif',serif" font-weight="bold" font-size="8.5px" fill="#203010">3</text>
<text x="772.3" y="563.3" text-anchor="middle" font-family="'Liberation Serif',serif" font-weight="bold" font-size="8.5px" fill="#103010">2</text>
<text x="772.3" y="574.9" text-anchor="middle" font-family="'Liberation Serif',serif" font-weight="bold" font-size="8.5px" fill="#103010">1</text>
</svg></body></html>
